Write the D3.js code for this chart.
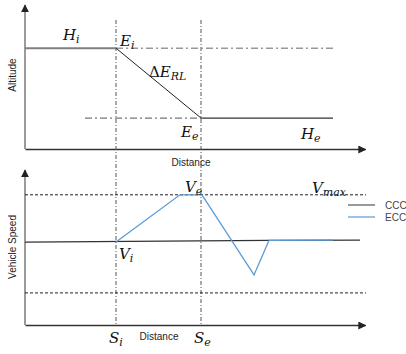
<!DOCTYPE html>
<html><head><meta charset="utf-8">
<script src="https://cdn.jsdelivr.net/npm/d3@7"></script>
<style>body{margin:0;background:#fff}svg{display:block}</style>
</head><body>
<svg id="c" width="406" height="354"></svg>
<script>
// ---- data (distance units 0..340, altitude/speed 0..100) ----
const markers = [{name:"S_i", d:91}, {name:"S_e", d:176}];
const altitudeHi = [[0,70],[91,70]];
const altitudeDrop = [[91,70],[176,21.5]];
const altitudeHe = [[176,21.5],[308,21.5]];
const refHi = [[91,70],[308,70]];
const refHe = [[60,21.5],[176,21.5]];
const speedCCC = [[0,53.5],[244,54.6],[335,54.8]];
const speedECC = [[91,53.5],[155,84],[177,84],[229,32.3],[244,54.6],[308,54.8]];
const vmaxLine = [[0,84],[341,84]];
const vminLine = [[0,20.7],[341,20.7]];
const legendItems = ["CCC","ECC"];

const svg = d3.select("#c");
const x = d3.scaleLinear().domain([0,340]).range([25,365]);
const yA = d3.scaleLinear().domain([0,100]).range([149,5]);
const yS = d3.scaleLinear().domain([0,100]).range([325,170]);

const defs = svg.append("defs");
defs.append("marker").attr("id","arr").attr("viewBox","0 0 10 10").attr("refX",9).attr("refY",5)
  .attr("markerWidth",8).attr("markerHeight",8).attr("markerUnits","userSpaceOnUse").attr("orient","auto")
  .append("path").attr("d","M0,0L10,5L0,10z").attr("fill","#222");

// axes
function axes(y){
  const gx = svg.append("g").attr("transform",`translate(0,${y.range()[0]})`)
    .call(d3.axisBottom(x).ticks(0).tickSizeOuter(0));
  gx.select(".domain").attr("stroke","#333").attr("stroke-width",1.3).attr("marker-end","url(#arr)");
  const gy = svg.append("g").attr("transform",`translate(${x(0)},0)`)
    .call(d3.axisLeft(y).ticks(0).tickSizeOuter(0));
  gy.select(".domain").attr("stroke","#666").attr("stroke-width",1.3)
    .attr("d",`M0,${y.range()[0]}V${y.range()[1]}`).attr("marker-end","url(#arr)");
}
axes(yA); axes(yS);

const lineA = d3.line().x(d=>x(d[0])).y(d=>yA(d[1]));
const lineS = d3.line().x(d=>x(d[0])).y(d=>yS(d[1]));

// vertical dash-dot markers
markers.forEach(m=>{
  svg.append("line").attr("x1",x(m.d)).attr("x2",x(m.d)).attr("y1",20).attr("y2",yS(0))
    .attr("stroke","#555").attr("stroke-width",1).attr("stroke-dasharray","4,2,1,2");
});

// top panel
svg.append("path").attr("d",lineA(refHi)).attr("fill","none").attr("stroke","#999").attr("stroke-width",1.6).attr("stroke-dasharray","7,3,2,3");
svg.append("path").attr("d",lineA(refHe)).attr("fill","none").attr("stroke","#777").attr("stroke-width",1.2).attr("stroke-dasharray","7,3,2,3");
svg.append("path").attr("d",lineA(altitudeHi)).attr("fill","none").attr("stroke","#808080").attr("stroke-width",2);
svg.append("path").attr("d",lineA(altitudeDrop)).attr("fill","none").attr("stroke","#222").attr("stroke-width",1);
svg.append("path").attr("d",lineA(altitudeHe)).attr("fill","none").attr("stroke","#333").attr("stroke-width",1.2);

// bottom panel
[vmaxLine,vminLine].forEach(l=>svg.append("path").attr("d",lineS(l)).attr("fill","none")
  .attr("stroke","#222").attr("stroke-width",1).attr("stroke-dasharray","3,2"));
svg.append("path").attr("d",lineS(speedCCC)).attr("fill","none").attr("stroke","#333").attr("stroke-width",1.2);
svg.append("path").attr("d",lineS(speedECC)).attr("fill","none").attr("stroke","#5b9bd5").attr("stroke-width",1.3);

// legend
const legColors = ["#555","#5b9bd5"];
legendItems.forEach((t,i)=>{
  const ly = 205 + i*12;
  svg.append("line").attr("x1",348).attr("x2",375).attr("y1",ly).attr("y2",ly).attr("stroke",legColors[i]).attr("stroke-width",1.2);
  svg.append("text").attr("x",385).attr("y",ly+4).text(t).attr("font-family","Liberation Sans, Arial").attr("font-size",10).attr("fill","#444");
});

// math labels
function mlabel(px,py,main,sub,pre){
  const t = svg.append("text").attr("x",px).attr("y",py).attr("font-family","DejaVu Serif")
    .attr("font-size",15).attr("fill","#111");
  if(pre) t.append("tspan").text(pre);
  t.append("tspan").attr("font-style","italic").text(main);
  t.append("tspan").attr("font-style","italic").attr("font-size",11).attr("dy",3).text(sub);
}
mlabel(63,40,"H","i");
mlabel(120,46,"E","i");
mlabel(149,77,"E","RL","Δ");
mlabel(181,137,"E","e");
mlabel(301,139,"H","e");
mlabel(185,192,"V","e");
mlabel(312,193,"V","max");
mlabel(119,259,"V","i");
mlabel(109,343,"S","i");
mlabel(194,343,"S","e");

// axis titles
const sans = "Liberation Sans, Arial";
svg.append("text").attr("transform","translate(16,75) rotate(-90)").attr("text-anchor","middle")
  .attr("font-family",sans).attr("font-size",10).attr("fill","#222").text("Altitude");
svg.append("text").attr("x",191).attr("y",166).attr("text-anchor","middle")
  .attr("font-family",sans).attr("font-size",10).attr("fill","#222").text("Distance");
svg.append("text").attr("transform","translate(16,247) rotate(-90)").attr("text-anchor","middle")
  .attr("font-family",sans).attr("font-size",10).attr("fill","#222").text("Vehicle Speed");
svg.append("text").attr("x",159).attr("y",340).attr("text-anchor","middle")
  .attr("font-family",sans).attr("font-size",10).attr("fill","#222").text("Distance");
</script>
</body></html>
